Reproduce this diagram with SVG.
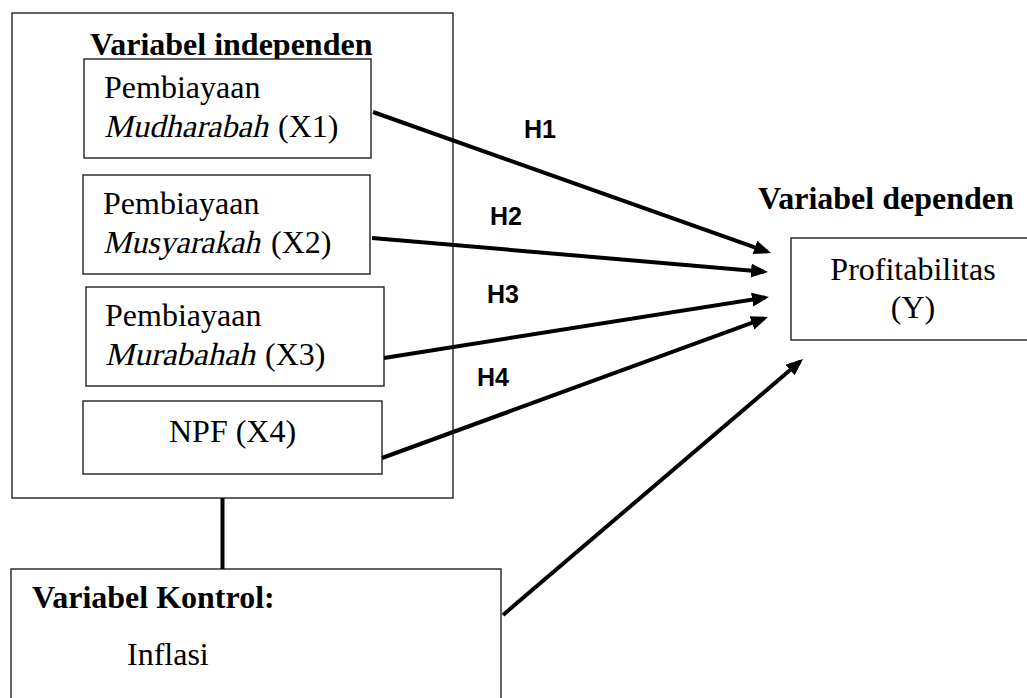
<svg xmlns="http://www.w3.org/2000/svg" width="1027" height="698" viewBox="0 0 1027 698">
<style>
.box{fill:#fff;stroke:#222;stroke-width:1.4}
.t{font-family:"Liberation Serif","Times New Roman",serif;font-size:32px;fill:#000}
.b{font-weight:bold}
.h{font-family:"Liberation Sans",Arial,sans-serif;font-weight:bold;font-size:25px;fill:#000}
.conn{stroke:#000;stroke-width:4;fill:none}
.arr{marker-end:url(#ah)}
</style>
<defs>
<marker id="ah" markerUnits="userSpaceOnUse" markerWidth="18" markerHeight="15" refX="13" refY="7" orient="auto" viewBox="0 0 18 15">
<path d="M0,0 L17,7 L0,14 Z" fill="#000"/>
</marker>
</defs>
<rect width="1027" height="698" fill="#fff"/>
<g id="independen">
<rect class="box" x="12" y="13" width="441" height="485"/>
<text class="t b" x="90" y="55">Variabel independen</text>
</g>
<g id="x1">
<rect class="box" x="84" y="59" width="287" height="99"/>
<text class="t" x="104" y="98">Pembiayaan</text>
<text class="t" transform="translate(104,137) skewX(-13)" x="0" y="0" textLength="164" lengthAdjust="spacingAndGlyphs">Mudharabah</text>
<text class="t" x="278" y="137">(X1)</text>
</g>
<g id="x2">
<rect class="box" x="83" y="175" width="287" height="99"/>
<text class="t" x="103" y="214">Pembiayaan</text>
<text class="t" transform="translate(103,253) skewX(-13)" x="0" y="0" textLength="157" lengthAdjust="spacingAndGlyphs">Musyarakah</text>
<text class="t" x="271" y="253">(X2)</text>
</g>
<g id="x3">
<rect class="box" x="86" y="287" width="298" height="99"/>
<text class="t" x="105" y="326">Pembiayaan</text>
<text class="t" transform="translate(105,365) skewX(-13)" x="0" y="0" textLength="150" lengthAdjust="spacingAndGlyphs">Murabahah</text>
<text class="t" x="265" y="365">(X3)</text>
</g>
<g id="x4">
<rect class="box" x="83" y="401" width="299" height="73"/>
<text class="t" x="169" y="442">NPF (X4)</text>
</g>
<g id="dependen">
<text class="t b" x="758" y="209">Variabel dependen</text>
<rect class="box" x="791" y="238" width="260" height="102"/>
<text class="t" x="913" y="280" text-anchor="middle">Profitabilitas</text>
<text class="t" x="913" y="318" text-anchor="middle">(Y)</text>
</g>
<g id="kontrol">
<rect class="box" x="11" y="569" width="490" height="200"/>
<text class="t b" x="32" y="608">Variabel Kontrol:</text>
<text class="t" x="127" y="665">Inflasi</text>
</g>
<g id="connectors">
<line class="conn arr" x1="373" y1="112" x2="767.2" y2="251.7"/>
<line class="conn arr" x1="372" y1="238" x2="764" y2="271.7"/>
<line class="conn arr" x1="384" y1="358" x2="765" y2="297.6"/>
<line class="conn arr" x1="382" y1="458" x2="764.2" y2="318.4"/>
<line class="conn arr" x1="503" y1="615" x2="800" y2="361.6"/>
<line class="conn" x1="222.5" y1="498" x2="222.5" y2="569"/>
<text class="h" x="524" y="138">H1</text>
<text class="h" x="490" y="225">H2</text>
<text class="h" x="487" y="303">H3</text>
<text class="h" x="477" y="386">H4</text>
</g>
</svg>
